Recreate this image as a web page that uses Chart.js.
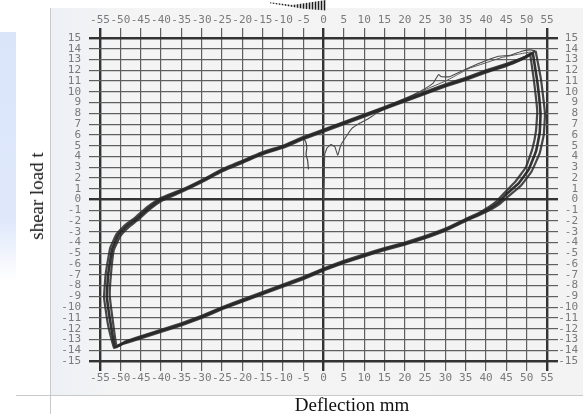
<!DOCTYPE html>
<html>
<head>
<meta charset="utf-8">
<script src="https://cdn.jsdelivr.net/npm/chart.js@4/dist/chart.umd.min.js"></script>
<style>
  html, body { margin: 0; padding: 0; background: #fff; }
  #page { position: relative; width: 583px; height: 414px; overflow: hidden; }
  .abs { position: absolute; }
  #bluePanel { left: 0; top: 32px; width: 16px; height: 250px;
    background: linear-gradient(to bottom, #dbe5fa 0%, #dfe8fb 75%, #ffffff 100%); }
  #scan { left: 51px; top: 8px; width: 532px; height: 387px;
    background: linear-gradient(to right, #edf0f6 0%, #f4f4f4 12%, #f3f3f3 100%); }
  #vline { left: 50px; top: 8px; width: 1px; height: 406px; background: #c9c9c9; }
  #hline { left: 16px; top: 395px; width: 567px; height: 1px; background: #c9c9c9; }
  #scrap { left: 270px; top: 0; width: 56px; height: 11px;
    background: repeating-linear-gradient(90deg, #1e1e1e 0 1px, #bdbdbd 1px 3px);
    clip-path: polygon(0 20%, 40% 45%, 100% 0, 100% 95%, 60% 80%, 0 30%); }
  .lbl { font-family: "Liberation Serif", "DejaVu Serif", serif; font-size: 19px; color: #111; white-space: nowrap; }
  #ylbl { left: 37px; top: 196px; transform: translate(-50%, -50%) rotate(-90deg); }
  #xlbl { left: 352px; top: 405px; transform: translate(-50%, -50%); }
  canvas { position: absolute; left: 0; top: 0; }
</style>
</head>
<body>
<div id="page">
  <div class="abs" id="bluePanel"></div>
  <div class="abs" id="scan"></div>
  <div class="abs" id="vline"></div>
  <div class="abs" id="hline"></div>
  <div class="abs" id="scrap"></div>
  <canvas id="myChart" width="583" height="414"></canvas>
  <div class="abs lbl" id="ylbl">shear load t</div>
  <div class="abs lbl" id="xlbl">Deflection mm</div>
</div>
<script>
// --- DONNÉES ---
const xTickLabels = ['-55','-50','-45','-40','-35','-30','-25','-20','-15','-10','-5','0','5','10','15','20','25','30','35','40','45','50','55'];

// cycle principal
const cycleAX = [51.5, 52.6, 53.4, 53.2, 52.3, 50.5, 48, 45, 43, 41, 38, 35, 30, 25, 20, 15, 10, 5, 0, -5, -10, -15, -20, -25, -30, -35, -40, -45, -49, -51.3, -52.4, -53.3, -53, -52, -50.5, -48.5, -46, -43, -40, -35, -30, -25, -20, -15, -10, -5, 0, 5, 10, 15, 20, 25, 30, 35, 40, 45, 49, 51.5];
const cycleAY = [13.6, 11, 8, 6.2, 4.5, 2.8, 1.5, 0.5, -0.3, -0.8, -1.4, -1.9, -2.8, -3.5, -4.1, -4.6, -5.2, -5.8, -6.5, -7.3, -8.0, -8.7, -9.4, -10.1, -10.9, -11.6, -12.2, -12.8, -13.3, -13.7, -11.5, -9, -7, -4.6, -3.3, -2.5, -1.8, -0.8, 0, 0.8, 1.7, 2.7, 3.5, 4.3, 4.9, 5.7, 6.4, 7.1, 7.8, 8.5, 9.2, 9.9, 10.6, 11.2, 11.9, 12.5, 13.1, 13.6];

// cycle extérieur
const cycleBX = [52.2, 53.5, 54.5, 54.2, 53.2, 51.2, 48.6, 45.5, 43.4, 41.3, 38, 35, 30, 25, 20, 15, 10, 5, 0, -5, -10, -15, -20, -25, -30, -35, -40, -45, -49.3, -51.5, -53, -54, -53.6, -52.5, -50.9, -48.9, -46.4, -43.4, -40.3, -35, -30, -25, -20, -15, -10, -5, 0, 5, 10, 15, 20, 25, 30, 35, 40, 45, 49.3, 52.2];
const cycleBY = [13.8, 11.2, 8, 6, 4.3, 2.6, 1.3, 0.3, -0.4, -0.9, -1.5, -2.0, -2.9, -3.6, -4.2, -4.7, -5.3, -5.9, -6.6, -7.4, -8.1, -8.8, -9.5, -10.2, -11.0, -11.7, -12.3, -12.9, -13.4, -13.8, -11.7, -9.1, -6.9, -4.5, -3.2, -2.4, -1.7, -0.7, 0.1, 0.9, 1.8, 2.8, 3.6, 4.4, 5.0, 5.8, 6.5, 7.2, 7.9, 8.6, 9.3, 10.0, 10.7, 11.3, 12.0, 12.6, 13.2, 13.8];

// cycle intérieur
const cycleCX = [50.9, 51.8, 52.6, 52.3, 51.4, 49.8, 47.3, 44.5, 42.5, 40.7, 38, 35, 30, 25, 20, 15, 10, 5, 0, -5, -10, -15, -20, -25, -30, -35, -40, -45, -48.8, -50.9, -51.8, -52.6, -52.3, -51.6, -50, -48, -45.7, -42.7, -39.7, -35, -30, -25, -20, -15, -10, -5, 0, 5, 10, 15, 20, 25, 30, 35, 40, 45, 48.8, 50.9];
const cycleCY = [13.4, 11, 8.2, 6.4, 4.7, 3.0, 1.7, 0.6, -0.2, -0.7, -1.3, -1.8, -2.7, -3.4, -4.0, -4.5, -5.1, -5.7, -6.4, -7.2, -7.9, -8.6, -9.3, -10.0, -10.8, -11.5, -12.1, -12.7, -13.2, -13.6, -11.4, -8.9, -6.9, -4.7, -3.4, -2.6, -1.9, -0.9, -0.1, 0.7, 1.6, 2.6, 3.4, 4.2, 4.8, 5.6, 6.3, 7.0, 7.7, 8.4, 9.1, 9.8, 10.5, 11.1, 11.8, 12.4, 13.0, 13.4];

// premier chargement (trait fin)
const firstLoadX = [0, 0.2, 0.3, 0.9, 1.8, 2.8, 3.5, 4.2, 5.5, 7, 9, 11, 13, 16, 20, 23, 25, 27, 28.3, 29, 31, 35, 38, 40, 43, 46, 49, 51, 52];
const firstLoadY = [0, 2, 4.2, 4.8, 5.1, 4.9, 4.1, 5.0, 5.8, 6.6, 7.1, 7.5, 8.0, 8.6, 9.3, 9.9, 10.3, 10.8, 11.6, 11.4, 11.4, 12.1, 12.6, 12.9, 13.3, 13.4, 13.8, 13.9, 13.8];

const secondLoadX = [15, 20, 25, 30, 33, 36, 40, 44, 48, 51];
const secondLoadY = [8.5, 9.4, 10.2, 11.0, 11.6, 12.2, 12.7, 13.2, 13.5, 13.7];

const dropX = [-5, -4.4, -4.1, -4.3, -3.9, -3.7];
const dropY = [5.7, 5.4, 4.8, 4.2, 3.6, 2.8];

function pts(xs, ys) { return xs.map((x, i) => ({ x: x, y: ys[i] })); }

function serie(xs, ys, w, col) {
    return { data: pts(xs, ys), showLine: true, pointRadius: 0, borderWidth: w,
             borderColor: col, tension: 0.1, fill: false };
}

// --- STYLE DES GRILLES ---
const tickFont = { family: '"DejaVu Sans Mono", monospace', size: 11 };
const tickColor = '#7a7a7a';

function gridWidth(edge) {
    return (c) => {
        const v = c.tick ? c.tick.value : null;
        return (v === 0 || Math.abs(v) === edge) ? 2.4 : 1.2;
    };
}
function gridColor(edge) {
    return (c) => {
        const v = c.tick ? c.tick.value : null;
        return (v === 0 || Math.abs(v) === edge) ? '#333' : '#5f5f5f';
    };
}

function xScale(pos, onArea, h) {
    return {
        type: 'linear', position: pos, min: -55, max: 55,
        border: { display: false },
        grid: { drawOnChartArea: onArea, tickLength: 10, lineWidth: gridWidth(55), color: gridColor(55) },
        ticks: { stepSize: 5, autoSkip: false, maxRotation: 0, minRotation: 0, padding: 1,
                 color: tickColor, font: tickFont,
                 callback: (v) => xTickLabels[Math.round((v + 55) / 5)] },
        afterFit: (s) => { s.height = h; }
    };
}
function yScale(pos, onArea, w, align) {
    return {
        type: 'linear', position: pos, min: -15, max: 15,
        border: { display: false },
        grid: { drawOnChartArea: onArea, tickLength: 11, lineWidth: gridWidth(15), color: gridColor(15) },
        ticks: { stepSize: 1, autoSkip: false, padding: 8, crossAlign: align,
                 color: tickColor, font: tickFont, callback: (v) => String(v) },
        afterFit: (s) => { s.width = w; }
    };
}

const ctx = document.getElementById('myChart').getContext('2d');
const myChart = new Chart(ctx, {
    type: 'scatter',
    data: {
        datasets: [
            serie(cycleBX, cycleBY, 2.2, 'rgba(40,40,40,0.85)'),
            serie(cycleCX, cycleCY, 2.2, 'rgba(40,40,40,0.85)'),
            serie(cycleAX, cycleAY, 2.6, 'rgba(30,30,30,0.9)'),
            serie(firstLoadX, firstLoadY, 1.1, '#4a4a4a'),
            serie(secondLoadX, secondLoadY, 1, '#555'),
            serie(dropX, dropY, 1.2, '#444')
        ]
    },
    options: {
        responsive: false,
        devicePixelRatio: 1,
        animation: false,
        layout: { padding: { left: 52, right: 5, top: 8, bottom: 0 } },
        plugins: { legend: { display: false }, tooltip: { enabled: false } },
        scales: {
            x: xScale('bottom', true, 53),
            x2: xScale('top', false, 30),
            y: yScale('left', true, 48, 'near'),
            y2: yScale('right', false, 31, 'far')
        }
    }
});
</script>
</body>
</html>
